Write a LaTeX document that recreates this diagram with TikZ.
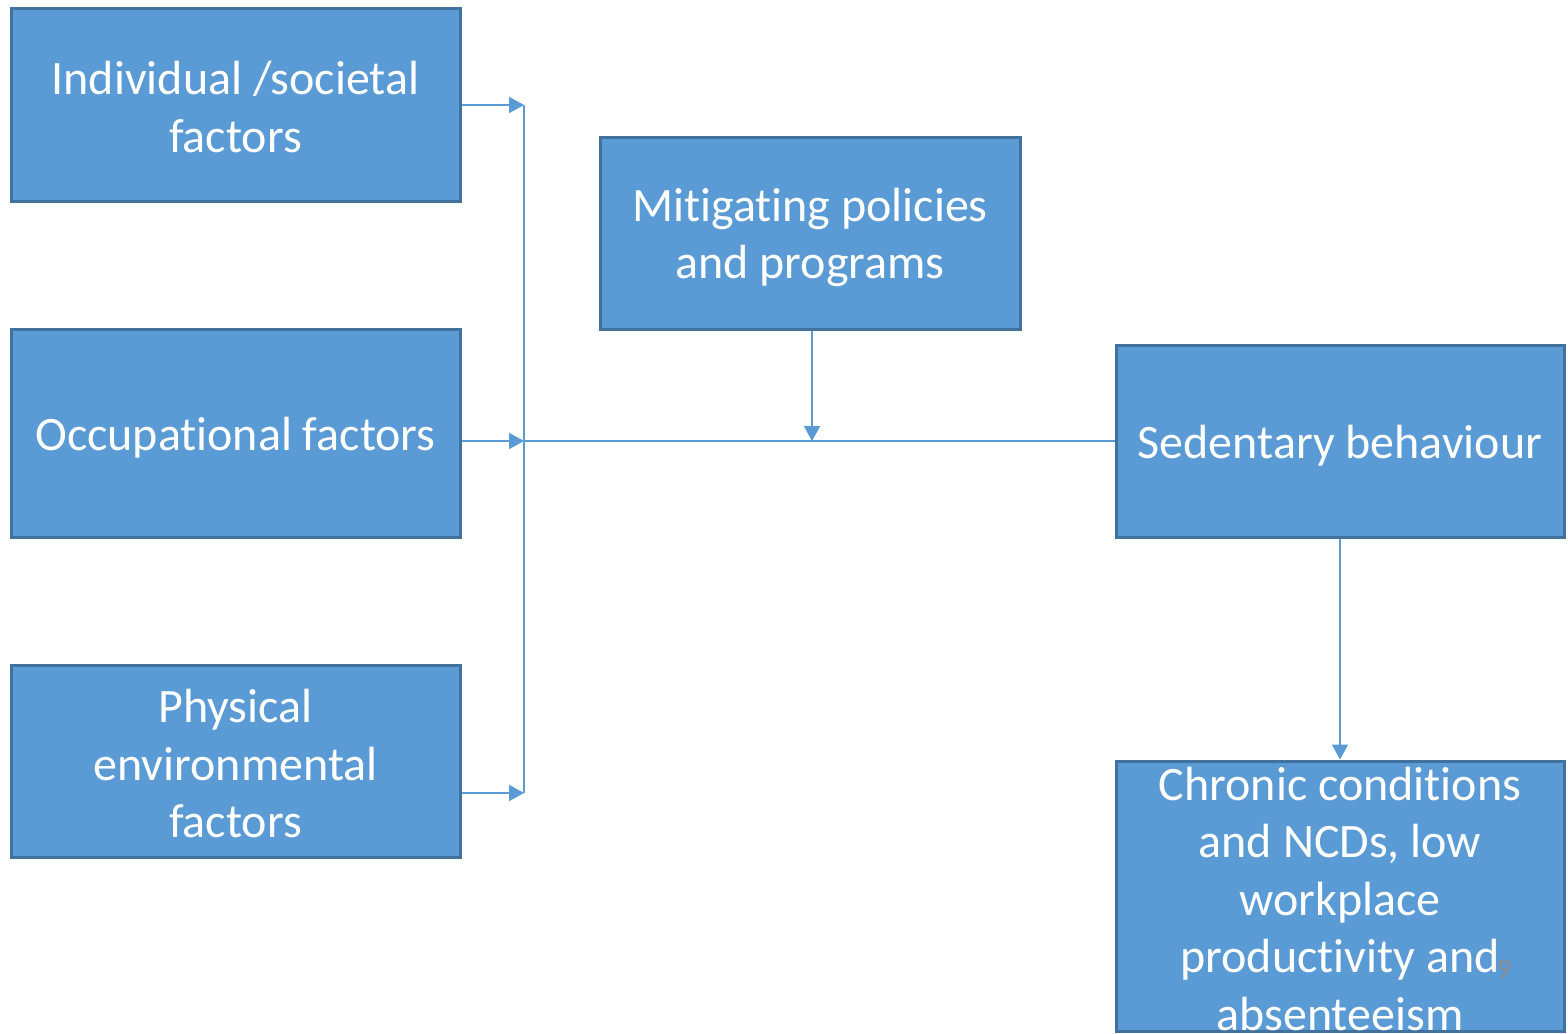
\documentclass[tikz,border=0pt]{standalone}
\usepackage{fontspec}
\setmainfont{Carlito}[Ligatures=NoCommon, RawFeature={-liga;-clig;-dlig}]
\usetikzlibrary{positioning,arrows.meta,calc}
\definecolor{boxblue}{HTML}{5B9BD5}
\definecolor{boxedge}{HTML}{41719C}
\definecolor{pagegray}{HTML}{8C8C8C}

\begin{document}
\begin{tikzpicture}[
  x=1pt, y=-1pt,
  factor/.style={draw=boxedge, fill=boxblue, line width=3pt, text=white,
                 align=center, inner sep=0pt,
                 font=\fontsize{48}{57.5}\selectfont,
                 execute at begin node={\rule{0pt}{42pt}}},
  lower/.style={execute at begin node={\rule{0pt}{#1}}},
  link/.style={draw=boxblue, line width=2pt},
  arrow/.style={link, -{Triangle[length=15pt, width=16pt]}}
]
  \useasboundingbox (0,0) rectangle (1568,1033);

  \node[factor, lower=95pt, minimum width=449pt, minimum height=192pt] (indiv) at (235.5,105) {Individual /societal\\factors};
  \node[factor, minimum width=449pt, minimum height=208pt] (occ) at (235.5,433) {Occupational factors};
  \node[factor, lower=154pt, minimum width=449pt, minimum height=192pt] (phys) at (235.5,761) {Physical\\environmental\\factors};
  \node[factor, lower=100pt, minimum width=420pt, minimum height=192pt] (mitig) at (810,233) {Mitigating policies\\and programs};
  \node[factor, minimum width=448pt, minimum height=192pt] (sed) at (1340,441) {Sedentary behaviour};
  \node[factor, lower=269pt, minimum width=448pt, minimum height=270pt] (chron) at (1340,896) {Chronic conditions\\and NCDs, low\\workplace\\productivity and\\absenteeism};
  \node[text=pagegray, font=\fontsize{28}{32}\selectfont, inner sep=0pt] (pagenum) at (1504,969) {9};

  \coordinate (bus) at (524,441);
  \coordinate (bustop) at (524,105);
  \coordinate (busbot) at (524,793);

  \draw[arrow] (indiv.east |- bustop) -- (bustop);
  \draw[arrow] (occ.east |- bus) -- (bus);
  \draw[arrow] (phys.east |- busbot) -- (busbot);
  \draw[link] (bustop) -- (busbot);
  \draw[link] (bus) -- (sed.west);
  \draw[arrow] (mitig.south -| 812,0) -- (bus -| 812,0);
  \draw[arrow] (sed.south) -- (chron.north);
\end{tikzpicture}
\end{document}
